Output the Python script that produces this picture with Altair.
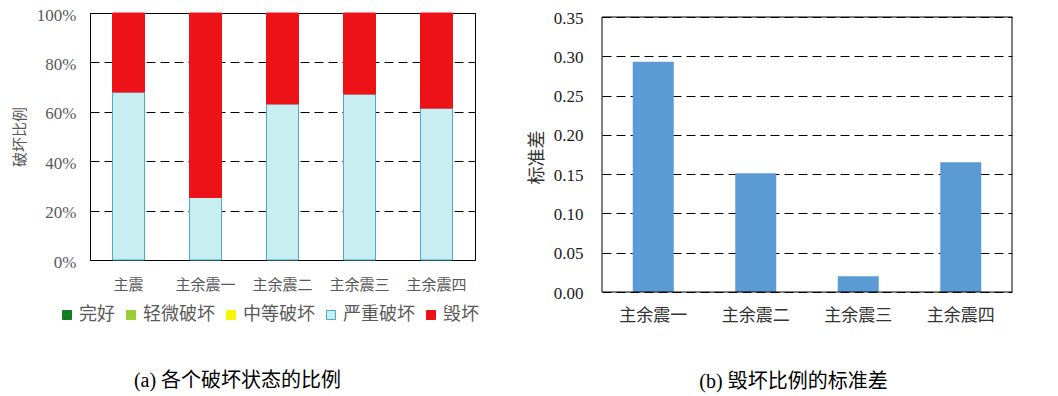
import altair as alt
import pandas as pd

# ---------------- data ----------------
cases_a = ["主震", "主余震一", "主余震二", "主余震三", "主余震四"]
states = ["完好", "轻微破坏", "中等破坏", "严重破坏", "毁坏"]
intact = [0.0, 0.0, 0.0, 0.0, 0.0]
slight = [0.0, 0.0, 0.0, 0.0, 0.0]
moderate = [0.0, 0.0, 0.0, 0.0, 0.0]
severe = [0.68, 0.253, 0.632, 0.672, 0.615]
collapse = [0.32, 0.747, 0.368, 0.328, 0.385]

cases_b = ["主余震一", "主余震二", "主余震三", "主余震四"]
std_b = [0.293, 0.151, 0.020, 0.165]

pct_ticks = [0, 0.2, 0.4, 0.6, 0.8, 1.0]
std_ticks = [0, 0.05, 0.10, 0.15, 0.20, 0.25, 0.30, 0.35]
std_frame = [0.0, 0.35]

fill_colors = ["#127c22", "#9acd32", "#f7f700", "#c9eef2", "#ec1218"]
stroke_colors = ["#127c22", "#9acd32", "#f7f700", "#4bacc6", "#ec1218"]

series = [intact, slight, moderate, severe, collapse]
rows = []
for si, (st, vals) in enumerate(zip(states, series)):
    for case, v in zip(cases_a, vals):
        rows.append({"case": case, "state": st, "ratio": v, "order": si})
df_a = pd.DataFrame(rows)
df_b = pd.DataFrame({"case": cases_b, "std": std_b})
df_frame = pd.DataFrame({"lo": [std_frame[0]], "hi": [std_frame[1]]})

CJK = "'Noto Sans CJK SC'"
SERIF = "'Liberation Serif', 'Noto Sans CJK SC'"

legend = alt.Legend(
    title=None, orient="none", legendX=-32, legendY=293,
    direction="horizontal", symbolType="square", symbolSize=81,
    symbolStrokeWidth=1, labelFont=CJK, labelFontSize=18,
    labelColor="#595959", labelOffset=3, columnPadding=7,
)

left = alt.Chart(df_a).transform_filter("datum.ratio > 0").mark_bar(
    size=32, strokeWidth=1
).encode(
    x=alt.X("case:N", sort=cases_a,
            scale=alt.Scale(paddingInner=0.584, paddingOuter=0.292),
            axis=alt.Axis(title="(a) 各个破坏状态的比例", titleFont=SERIF,
                          titleFontSize=20, titleFontWeight="normal",
                          titleColor="#000000", titleX=147, titleY=120,
                          titleBaseline="middle", labelAngle=0,
                          labelFont=CJK, labelFontSize=15, labelColor="#595959",
                          labelPadding=17, ticks=False, domain=False)),
    y=alt.Y("ratio:Q", stack="zero", scale=alt.Scale(domain=[0, 1]),
            axis=alt.Axis(title="破坏比例", values=pct_ticks, format=".0%",
                          titleFont=CJK, titleFontSize=15, titleFontWeight="normal",
                          titleColor="#595959", titlePadding=9,
                          labelFont=SERIF, labelFontSize=17, labelColor="#595959",
                          labelPadding=14, labelOffset=2, ticks=False, domain=False,
                          grid=True, gridColor="#000000", gridDash=[9, 5],
                          gridWidth=1, gridOpacity=1)),
    fill=alt.Fill("state:N", scale=alt.Scale(domain=states, range=fill_colors),
                  legend=legend),
    stroke=alt.Stroke("state:N", scale=alt.Scale(domain=states, range=stroke_colors),
                      legend=legend),
    order=alt.Order("order:Q"),
).properties(width=385, height=247)

y_scale_b = alt.Scale(domain=[0, 0.35], range=[279, 4], nice=False)
y_axis_b = alt.Axis(title="标准差", values=std_ticks, tickCount=8,
                    format=".2f", labelOverlap=False,
                    titleFont=CJK, titleFontSize=18, titleFontWeight="normal",
                    titleColor="#333333", titleX=-65, titleY=144,
                    titleAngle=270, titleAlign="center", titleBaseline="middle",
                    labelFont=SERIF, labelFontSize=17, labelColor="#1a1a1a",
                    labelPadding=19, labelOffset=1, ticks=False, domain=False,
                    grid=True, gridColor="#000000", gridDash=[9, 5],
                    gridWidth=1, gridOpacity=1)

right_bars = alt.Chart(df_b).mark_bar(size=41, color="#5b9bd5").encode(
    x=alt.X("case:N", sort=cases_b,
            scale=alt.Scale(paddingInner=0.6, paddingOuter=0.3),
            axis=alt.Axis(title="(b) 毁坏比例的标准差", titleFont=SERIF,
                          titleFontSize=20, titleFontWeight="normal",
                          titleColor="#000000", titleX=191, titleY=89,
                          titleBaseline="middle", labelAngle=0,
                          labelFont=CJK, labelFontSize=17, labelColor="#333333",
                          labelPadding=15, ticks=False, domain=False)),
    y=alt.Y("std:Q", scale=y_scale_b, axis=y_axis_b),
)

right_frame = alt.Chart(df_frame).mark_rect(
    fill="transparent", stroke="#000000", strokeWidth=1
).encode(
    x=alt.value(0), x2=alt.value(410),
    y=alt.Y("hi:Q", scale=y_scale_b, axis=y_axis_b), y2="lo:Q",
)

right = alt.layer(right_bars, right_frame).properties(
    width=410, height=279, view=alt.ViewBackground(stroke="transparent")
)

chart = alt.ConcatChart(
    concat=[left, right], columns=2, spacing=47, align="none"
).resolve_legend(
    fill="independent", stroke="independent"
).properties(
    padding={"left": 3, "top": -3, "right": 0, "bottom": 6}
).configure_view(
    stroke="#000000", strokeWidth=1
).configure_axis(
    gridColor="#000000", gridDash=[9, 5], gridOpacity=1
)

chart.save("out.html", embed_options={"renderer": "svg", "actions": False})
